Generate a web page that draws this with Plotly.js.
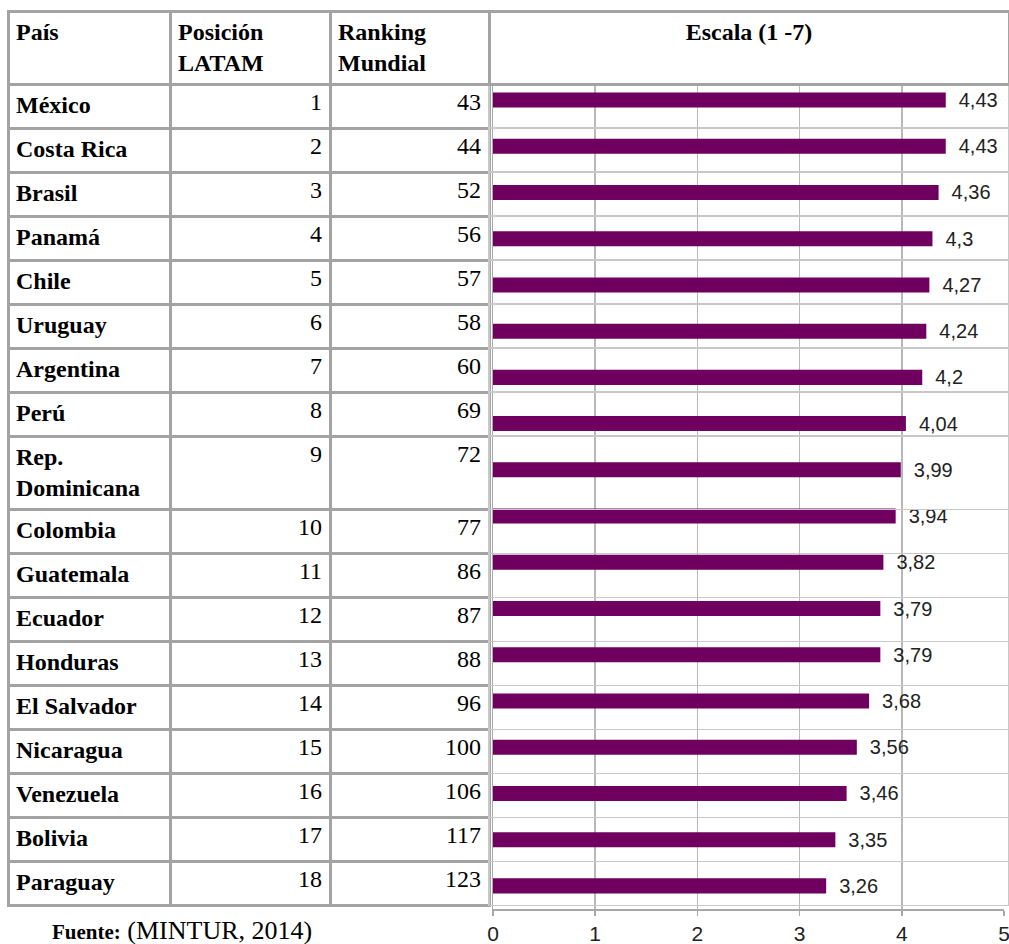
<!DOCTYPE html>
<html>
<head>
<meta charset="utf-8">
<script src="https://cdn.plot.ly/plotly-3.0.1.min.js"></script>
<style>html,body{margin:0;padding:0;background:#fff;}#chart{width:1009px;height:944px;}</style>
</head>
<body>
<div id="chart"></div>
<script>
// ---- data ----
var countries = ["México","Costa Rica","Brasil","Panamá","Chile","Uruguay","Argentina","Perú","Rep. Dominicana","Colombia","Guatemala","Ecuador","Honduras","El Salvador","Nicaragua","Venezuela","Bolivia","Paraguay"];
var posLatam = [1,2,3,4,5,6,7,8,9,10,11,12,13,14,15,16,17,18];
var rankMundial = [43,44,52,56,57,58,60,69,72,77,86,87,88,96,100,106,117,123];
var escala = [4.43,4.43,4.36,4.3,4.27,4.24,4.2,4.04,3.99,3.94,3.82,3.79,3.79,3.68,3.56,3.46,3.35,3.26];
var headers = ["País","Posición<br>LATAM","Ranking<br>Mundial","Escala (1 -7)"];
var xTicks = [0,1,2,3,4,5];
var sourceLabel = "Fuente:";
var sourceText = "(MINTUR, 2014)";

// ---- build ----
var W = 1009, H = 944;
function px(x){return x / W;}
function py(y){return 1 - y / H;}

var countryCells = countries.map(function(c){ return '<b>' + c.replace('Rep. ', 'Rep.<br>') + '</b>'; });
var blank = countries.map(function(){ return ''; });

var table = {
  type: 'table',
  domain: {x: [px(8), 1], y: [0, py(11)]},
  columnwidth: [162, 160, 159, 520],
  header: {
    values: headers.map(function(h){ return '<b>' + h + '</b>'; }),
    align: ['left','left','left','center'],
    height: 60,
    line: {color: '#a3a3a3', width: 3},
    fill: {color: '#ffffff'},
    font: {family: 'Liberation Serif', size: 24, color: '#000'}
  },
  cells: {
    values: [countryCells, posLatam, rankMundial, blank],
    align: ['left','right','right','left'],
    height: 44,
    line: {color: ['#a3a3a3','#a3a3a3','#a3a3a3','#c8c8c8'], width: [3,3,3,1.5]},
    fill: {color: ['#ffffff','#ffffff','#ffffff','rgba(0,0,0,0)']},
    font: {family: 'Liberation Serif', size: 24, color: '#000'}
  },
  hoverinfo: 'skip'
};

var bars = {
  type: 'bar',
  orientation: 'h',
  y: countries,
  x: escala,
  marker: {color: '#700060', line: {width: 0}},
  texttemplate: '\u2002%{x}',
  textposition: 'outside',
  constraintext: 'none',
  cliponaxis: false,
  textfont: {family: 'Liberation Sans', size: 20, color: '#222'},
  hoverinfo: 'skip'
};

var layout = {
  width: W, height: H,
  margin: {l: 0, r: 0, t: 0, b: 0, pad: 0},
  paper_bgcolor: '#ffffff',
  plot_bgcolor: 'rgba(0,0,0,0)',
  showlegend: false,
  separators: ',.',
  bargap: 0.675,
  xaxis: {
    domain: [px(493), px(1004)],
    range: [0, 5],
    tickvals: xTicks,
    ticktext: xTicks.map(String),
    ticklabeloverflow: 'allow',
    showgrid: true, gridcolor: '#b8b8b8', gridwidth: 1.5,
    zeroline: false,
    showline: true, linecolor: '#a8a8a8', linewidth: 1.5,
    ticks: 'outside', ticklen: 5, tickcolor: '#a8a8a8', tickwidth: 1.5,
    tickfont: {family: 'Liberation Sans', size: 21, color: '#222'},
    fixedrange: true
  },
  yaxis: {
    domain: [py(909), py(84)],
    type: 'category',
    categoryorder: 'array', categoryarray: countries,
    range: [17.5, -0.346],
    showgrid: false, zeroline: false,
    showline: true, linecolor: '#a8a8a8', linewidth: 1.5,
    showticklabels: false, ticks: '',
    fixedrange: true
  },
  annotations: [{
    xref: 'paper', yref: 'paper',
    x: px(50), y: py(930), xanchor: 'left', yanchor: 'middle',
    showarrow: false,
    text: '<b><span style="font-size:21px">' + sourceLabel + '</span></b> ' + sourceText,
    font: {family: 'Liberation Serif', size: 26, color: '#000'}
  }]
};

Plotly.newPlot('chart', [bars, table], layout, {displayModeBar: false, staticPlot: true});
</script>
</body>
</html>
